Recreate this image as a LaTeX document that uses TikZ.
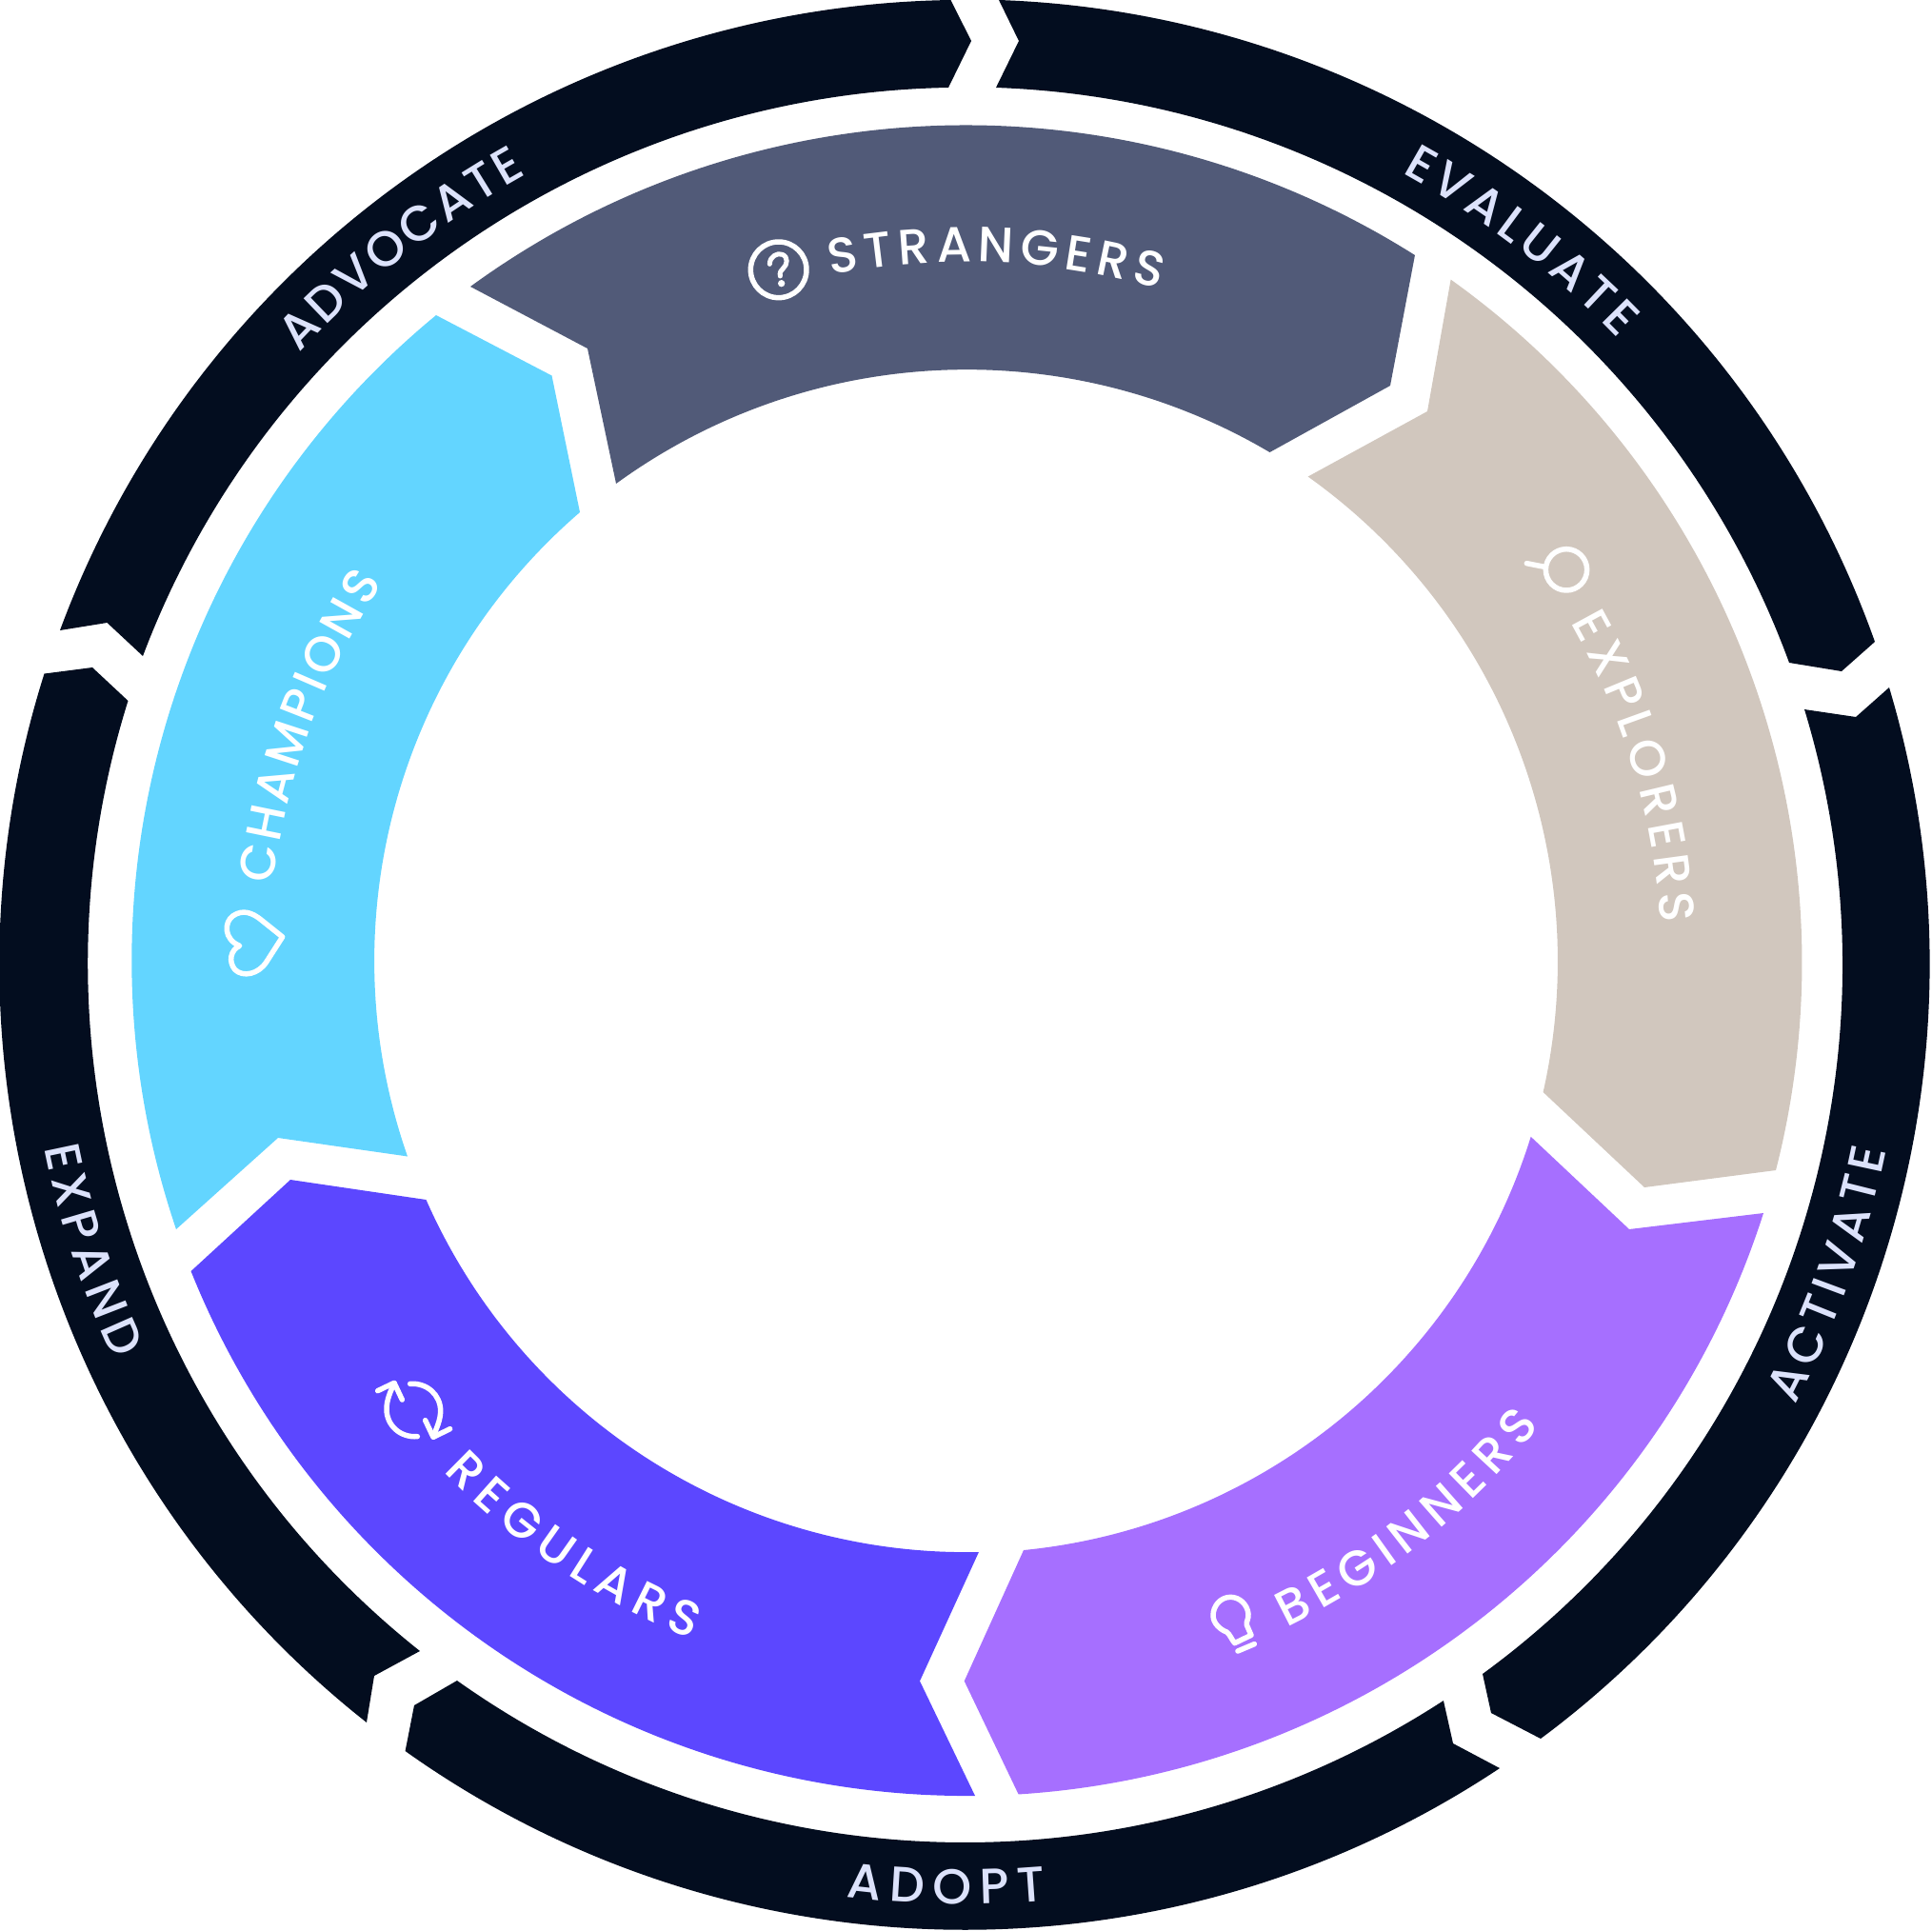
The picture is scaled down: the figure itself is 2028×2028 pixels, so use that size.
\documentclass[tikz,border=0pt]{standalone}
\usepackage{fontspec}
\usetikzlibrary{svg.path}
\newfontfamily\labfontfam{Poppins Medium}
\newcommand\labfont{\labfontfam\fontsize{52}{52}\selectfont}
\definecolor{ring}{HTML}{030D1F}
\definecolor{cstr}{HTML}{515A78}
\definecolor{cexp}{HTML}{D1C7BE}
\definecolor{cbeg}{HTML}{A66FFF}
\definecolor{creg}{HTML}{5C47FF}
\definecolor{ccha}{HTML}{63D5FF}
\definecolor{clab}{HTML}{DCE2FB}
\tikzset{
 flip/.style={yscale=-1},
 labnode/.style={inner sep=0pt,outer sep=0pt,font=\labfont},
 ico/.style={draw=white,line width=5.5pt,line cap=round,line join=round},
}
\newlength\lw
\newcommand\chwidth[1]{\setbox0=\hbox{\pgfinterruptpicture\labfont #1\endpgfinterruptpicture}\lw=\wd0 }
\newcommand\arcword[7]{%
 \gdef\awtot{0}%
 \foreach \thisch in {#7}{\chwidth{\thisch}\pgfmathsetmacro\tmpv{\awtot+\lw+#4}\global\let\awtot\tmpv}%
 \gdef\acum{0}%
 \foreach[count=\i] \thisch in {#7}{%
  \chwidth{\thisch}%
  \pgfmathsetmacro\ang{#2+#5*(\acum+0.5*\lw+0.5*#4-0.5*\awtot)/#3*180/pi}%
  \pgfmathsetmacro\rot{\ang+#5*90}%
  \node[labnode,text=#6,rotate=\rot,anchor=base] (#1\i) at ({1014+#3*cos(\ang)},{1014-#3*sin(\ang)}) {\thisch};
  \pgfmathsetmacro\tmpv{\acum+\lw+#4}\global\let\acum\tmpv
 }%
}
\begin{document}
\begin{tikzpicture}[x=1pt,y=-1pt]
\useasboundingbox (0,0) rectangle (2028,2028);
% outer ring
\fill[ring,flip] svg {M 63 662 A 1014 1014 0 0 1 998.5 0 L 1020 43 L 996 92 A 922 922 0 0 0 150 689 L 112.5 654 Z};
\fill[ring,flip] svg {M 1049 0 A 1014 1014 0 0 1 1969 674 L 1934 705 L 1879 696 A 922 922 0 0 0 1046 92 L 1070 43 Z};
\fill[ring,flip] svg {M 1984 722 A 1014 1014 0 0 1 1618 1826 L 1566 1799 L 1557 1758 A 922 922 0 0 0 1895 745 L 1949 753 Z};
\fill[ring,flip] svg {M 1575 1857 A 1014 1014 0 0 1 425.5 1839 L 435 1791 L 480 1765 A 922 922 0 0 0 1516 1786 L 1526 1831 Z};
\fill[ring,flip] svg {M 385 1809 A 1014 1014 0 0 1 46.5 707.5 L 97 701 L 134.5 736 A 922 922 0 0 0 441 1734 L 393 1760 Z};
% middle segments
\fill[cstr,flip] svg {M 494 301 A 883 883 0 0 1 1486 268 L 1460 405 L 1333.5 475 A 626 626 0 0 0 647 508 L 617 366 Z};
\fill[cexp,flip] svg {M 1523.6 293.6 A 882 882 0 0 1 1865 1229 L 1727 1247 L 1620.6 1147 A 625 625 0 0 0 1373.6 500.5 L 1499 432 Z};
\fill[cbeg,flip] svg {M 1852 1274 A 880 880 0 0 1 1069.6 1884.5 L 1012.7 1765.5 L 1075 1628 A 622 622 0 0 0 1607.7 1193.8 L 1711 1291 Z};
\fill[creg,flip] svg {M 1024 1886 A 878 878 0 0 1 200.5 1335 L 305 1239 L 447.5 1260 A 620 620 0 0 0 1028 1630 L 966 1765.5 Z};
\fill[ccha,flip] svg {M 185 1291 A 878 878 0 0 1 458 331 L 579.5 394.5 L 609 538 A 622 622 0 0 0 428 1214.5 L 292 1195 Z};
% outer labels
\arcword{adv}{128.2}{950}{3.2}{-1}{clab}{A,D,V,O,C,A,T,E}
\arcword{eva}{52.5}{950}{5.1}{-1}{clab}{E,V,A,L,U,A,T,E}
\arcword{act}{-19.6}{986}{5.2}{1}{clab}{A,C,T,I,V,A,T,E}
\arcword{ado}{-91.2}{986}{9}{1}{clab}{A,D,O,P,T}
\arcword{exp}{198}{986}{6.4}{1}{clab}{E,X,P,A,N,D}
% middle labels
\arcword{str}{87.5}{739}{6.3}{-1}{white}{S,T,R,A,N,G,E,R,S}
\arcword{xpl}{16.5}{731}{6.6}{-1}{white}{E,X,P,L,O,R,E,R,S}
\arcword{beg}{-51.4}{773}{7.8}{1}{white}{B,E,G,I,N,N,E,R,S}
\arcword{reg}{236}{764}{8.2}{1}{white}{R,E,G,U,L,A,R,S}
\arcword{cha}{160}{732}{3.4}{-1}{white}{C,H,A,M,P,I,O,N,S}
% icons
\begin{scope}[shift={(760,220)},x=0.3333pt,y=-0.3333pt]
 \draw[ico] (173,190) circle [radius=88];
 \draw[ico,line width=5pt] (145,172) .. controls (145,148) and (170,135) .. (185,142) .. controls (205,150) and (200,175) .. (188,185) .. controls (180,192) and (176,198) .. (178,210);
 \fill[white] (182,233) circle [radius=11];
\end{scope}
\begin{scope}[shift={(1560,550)},x=0.3333pt,y=-0.3333pt]
 \draw[ico] (255,145) circle [radius=65];
 \draw[ico] (130,125) -- (186,136);
\end{scope}
\begin{scope}[shift={(1240,1440)},x=0.3333pt,y=-0.3333pt]
 \draw[ico] (222,832) -- (208,800) .. controls (205,790) and (215,780) .. (213,765) .. controls (210,735) and (185,712) .. (157,712) .. controls (125,712) and (102,740) .. (102,770) .. controls (102,795) and (125,815) .. (145,822) .. controls (155,830) and (160,845) .. (170,857) -- cycle;
 \draw[ico] (180,882) -- (232,860);
\end{scope}
\begin{scope}[shift={(380,1420)},x=0.3333pt,y=-0.3333pt]
 \draw[ico] (175,266) .. controls (120,270) and (78,230) .. (78,180) .. controls (78,150) and (90,125) .. (102,98);
 \draw[ico] (50,122) -- (102,97) -- (127,150);
 \draw[ico] (152,100) .. controls (205,96) and (248,135) .. (248,185) .. controls (248,215) and (235,240) .. (225,266);
 \draw[ico] (200,215) -- (225,268) -- (278,242);
\end{scope}
\begin{scope}[shift={(200,580)},x=0.3333pt,y=-0.3333pt]
 \draw[ico] (290,1212) -- (225,1160) .. controls (195,1135) and (165,1125) .. (135,1145) .. controls (105,1165) and (105,1220) .. (155,1240) .. controls (125,1255) and (120,1290) .. (140,1315) .. controls (165,1340) and (215,1330) .. (240,1290) -- cycle;
\end{scope}
\end{tikzpicture}
\end{document}
